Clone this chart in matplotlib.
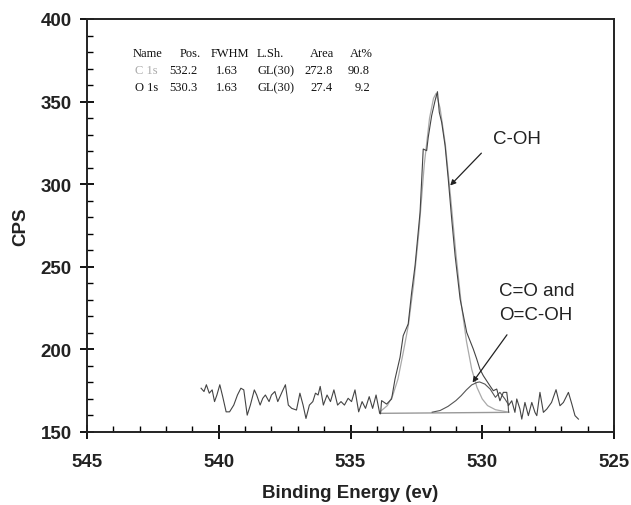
import numpy as np
import matplotlib
matplotlib.use("Agg")
from matplotlib import pyplot as plt
from matplotlib.ticker import MultipleLocator

plt.rcParams['font.family'] = ['Liberation Sans', 'DejaVu Sans']

# measured spectrum (binding energy, counts per second)
energy = [540.67, 540.56, 540.47, 540.36, 540.25, 540.16, 540.07, 539.96, 539.85,
          539.72, 539.59, 539.43, 539.29, 539.16, 539.05, 538.92, 538.80, 538.65,
          538.56, 538.43, 538.33, 538.23, 538.09, 538.00, 537.87, 537.76, 537.59,
          537.47, 537.36, 537.23, 537.05, 536.92, 536.80, 536.69, 536.56, 536.43,
          536.33, 536.23, 536.15, 536.03, 535.89, 535.76, 535.63, 535.49, 535.36,
          535.23, 535.09, 534.96, 534.83, 534.69, 534.56, 534.43, 534.29, 534.16,
          534.03, 533.89, 533.86, 533.82, 533.63, 533.44, 533.31, 533.12, 533.00,
          532.81, 532.68, 532.55, 532.36, 532.24, 532.11, 532.05, 531.92, 531.79,
          531.70, 531.63, 531.54, 531.41, 531.29, 531.16, 531.03, 530.84, 530.59,
          530.34, 530.21, 530.09, 529.96, 529.71, 529.58, 529.45, 529.33, 529.20,
          529.07, 529.01, 528.88, 528.76, 528.69, 528.57, 528.50, 528.38, 528.25,
          528.12, 528.00, 527.93, 527.81, 527.68, 527.55, 527.37, 527.20, 527.05,
          526.92, 526.73, 526.60, 526.48, 526.35]
cps = [176.5, 174.5, 178.6, 173.5, 175.5, 168.4, 172.4, 178.6, 171.4,
       162.2, 162.2, 166.3, 172.4, 176.5, 175.5, 160.2, 166.3, 175.5,
       172.4, 166.3, 170.4, 172.4, 168.4, 172.4, 174.5, 168.4, 174.5,
       178.6, 166.3, 164.3, 163.3, 173.5, 166.3, 158.2, 166.3, 168.4,
       173.5, 172.4, 177.6, 166.3, 172.4, 168.4, 175.5, 166.3, 168.4,
       166.3, 170.4, 168.4, 175.5, 162.2, 168.4, 164.3, 171.4, 164.3,
       172.4, 161.2, 161.0, 169.0, 166.9, 170.0, 182.1, 195.2, 208.3,
       215.4, 234.5, 250.7, 283.0, 321.3, 320.3, 328.4, 341.5, 350.6,
       356.0, 343.5, 337.5, 323.3, 303.1, 279.0, 256.7, 230.5, 210.3,
       200.2, 194.2, 188.1, 184.1, 178.0, 175.0, 176.0, 168.9, 174.0,
       174.0, 165.9, 168.9, 161.9, 170.0, 163.9, 157.8, 167.9, 159.9,
       167.9, 161.9, 159.9, 174.0, 161.9, 163.9, 167.9, 175.6, 165.9,
       167.9, 174.0, 166.9, 159.9, 157.8]

# fitted components
c1_energy = [533.9, 533.6, 533.4, 533.2, 533.0, 532.8, 532.6, 532.4, 532.2, 532.0,
             531.85, 531.75, 531.6, 531.4, 531.2, 531.0, 530.8, 530.6, 530.4,
             530.2, 530.0, 529.8, 529.5, 529.0]
c1_cps = [162, 166, 172, 182, 198, 215, 240, 272, 312, 340,
          352, 355, 346, 324, 292, 258, 228, 205, 188,
          177, 170, 166, 163.5, 162]
c2_energy = [531.9, 531.6, 531.3, 531.0, 530.8, 530.6, 530.4, 530.2, 530.1,
             529.9, 529.7, 529.5, 529.33, 529.14, 529.02, 529.0]
c2_cps = [162, 163, 165.5, 169, 172, 175.5, 178.5, 180, 180.3,
          179, 176, 171, 174, 170, 167, 162]
bg_energy = [533.86, 529.0]
bg_cps = [161.3, 161.9]

table = [["Name", "Pos.", "FWHM", "L.Sh.", "Area", "At%"],
         ["C 1s", "532.2", "1.63", "GL(30)", "272.8", "90.8"],
         ["O 1s", "530.3", "1.63", "GL(30)", "27.4", "9.2"]]

W, H = 631, 506
fig = plt.figure(figsize=(W / 100, H / 100), dpi=100)
ax = fig.add_axes([87 / W, 1 - 433 / H, (614 - 87) / W, (433 - 20) / H])

ax.plot(bg_energy, bg_cps, color="#999999", lw=1.0)
ax.plot(c1_energy, c1_cps, color="#aaaaaa", lw=0.9)
ax.plot(c2_energy, c2_cps, color="#555555", lw=0.8)
ax.plot(energy, cps, color="#444444", lw=0.8)

ax.set_xlim(545, 525)
ax.set_ylim(150, 400)
ax.xaxis.set_major_locator(MultipleLocator(5))
ax.xaxis.set_minor_locator(MultipleLocator(1))
ax.yaxis.set_major_locator(MultipleLocator(50))
ax.yaxis.set_minor_locator(MultipleLocator(10))
ax.tick_params(which="major", direction="inout", length=10, width=1.3,
               labelsize=13.5, top=False, right=False)
ax.tick_params(which="minor", direction="in", length=4, width=1.0,
               top=False, right=False)
ax.tick_params(axis="x", which="major", pad=10)
ax.tick_params(axis="y", which="major", pad=6)
for lab in ax.get_xticklabels() + ax.get_yticklabels():
    lab.set_fontweight("bold")
    lab.set_color("#222222")
for sp in ax.spines.values():
    sp.set_linewidth(1.4)
    sp.set_color("#222222")

ax.set_xlabel("Binding Energy (ev)", fontsize=13.5, fontweight="bold", color="#222222")
ax.set_ylabel("CPS", fontsize=13.5, fontweight="bold", color="#222222")
ax.xaxis.set_label_coords(0.5, -0.125)
ax.yaxis.set_label_coords(-0.11, 0.5)


def fpos(x, y):
    return x / W, 1 - y / H


# parameter table
col_x = [133, 180, 211, 257, 310, 350]
row_y = [54, 71, 88]
val_right = [None, 198, 238, None, 333, 370]
for r, row in enumerate(table):
    for c, txt in enumerate(row):
        color = "#111111"
        if r == 1 and c == 0:
            color = "#aaaaaa"
        if r > 0 and val_right[c] is not None:
            x, ha = val_right[c], "right"
        else:
            x, ha = col_x[c], "left"
        if r > 0 and c == 0:
            x = 135
        fig.text(*fpos(x, row_y[r]), txt, ha=ha, va="center", fontsize=9,
                 family="Liberation Serif", color=color, transform=fig.transFigure)

ax.annotate("", xy=(531.29, 298), xytext=(529.96, 320),
            arrowprops=dict(arrowstyle="-|>", color="#222222", lw=0.9,
                            mutation_scale=8))
ax.text(529.6, 327.4, "C-OH", fontsize=13.5, va="center", ha="left", color="#222222")
ax.annotate("", xy=(530.43, 178.6), xytext=(529.0, 210.2),
            arrowprops=dict(arrowstyle="-|>", color="#222222", lw=0.9,
                            mutation_scale=8))
ax.text(529.36, 235.7, "C=O and", fontsize=13.5, va="center", ha="left", color="#222222")
ax.text(529.36, 221.4, "O=C-OH", fontsize=13.5, va="center", ha="left", color="#222222")

fig.savefig("out.png", dpi=100)
